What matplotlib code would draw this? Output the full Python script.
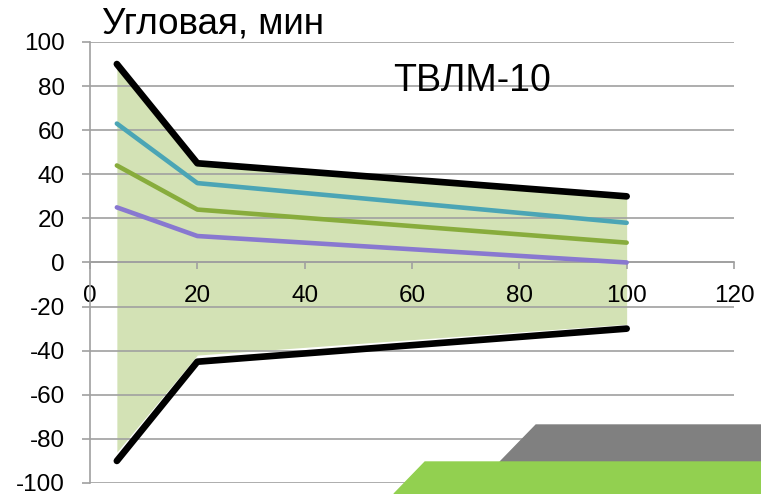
import matplotlib.pyplot as plt
from matplotlib.patches import Polygon

plt.rcParams['font.family'] = ['Liberation Sans', 'DejaVu Sans']
plt.rcParams['axes.unicode_minus'] = False

# длина, м
x = [5, 20, 100]
upper = [90, 45, 30]
lower = [-90, -45, -30]
fill_top = [90, 45, 30]
fill_bottom = [-86, -42, -28]
teal = [63, 36, 18]
green = [44, 24, 9]
purple = [25, 12, 0]

x_ticks = [0, 20, 40, 60, 80, 100, 120]
y_ticks = [-100, -80, -60, -40, -20, 0, 20, 40, 60, 80, 100]

fig = plt.figure(figsize=(7.61, 4.94), dpi=100)
ax = fig.add_axes([0.1183, 0.0223, 0.9645 - 0.1183, 0.915 - 0.0223])

ax.fill_between(x, fill_bottom, fill_top, color='#D3E2B5', lw=0, zorder=1)
for yv in y_ticks:
    ax.axhline(yv, color='#A0A0A0', lw=1.2, zorder=2)

ax.plot(x, upper, color='black', lw=4.8, solid_capstyle='round', zorder=5)
ax.plot(x, lower, color='black', lw=4.8, solid_capstyle='round', zorder=5)
ax.plot(x, teal, color='#4BA5B5', lw=3.3, solid_capstyle='round', zorder=4)
ax.plot(x, green, color='#88AC3C', lw=3.3, solid_capstyle='round', zorder=4)
ax.plot(x, purple, color='#8878D0', lw=3.3, solid_capstyle='round', zorder=4)

ax.set_xlim(0, 120)
ax.set_ylim(-100, 100)
ax.set_xticks(x_ticks)
ax.set_yticks(y_ticks)

for side in ['top', 'right']:
    ax.spines[side].set_visible(False)
ax.spines['left'].set_color('#A0A0A0')
ax.spines['left'].set_linewidth(1.2)
ax.spines['bottom'].set_position(('data', 0))
ax.spines['bottom'].set_color('#A0A0A0')
ax.spines['bottom'].set_linewidth(1.2)
ax.spines['bottom'].set_zorder(3)

ax.tick_params(axis='y', direction='out', length=6, width=1.2, color='#A0A0A0',
               pad=12, labelsize=17.5)
ax.tick_params(axis='x', direction='out', length=5, width=1.2, color='#A0A0A0',
               pad=11, labelsize=17.5)

ax.text(0.019, 1.0, 'Угловая, мин', transform=ax.transAxes, fontsize=26.5,
        ha='left', va='bottom')
ax.text(0.470, 0.952, 'ТВЛМ-10', transform=ax.transAxes, fontsize=27,
        ha='left', va='top')

# декоративные плашки в правом нижнем углу
gray_band = Polygon([(500 / 761, 1 - 462 / 494), (536 / 761, 1 - 425 / 494),
                     (1, 1 - 425 / 494), (1, 1 - 462 / 494)],
                    closed=True, transform=fig.transFigure, color='#808080', zorder=10)
green_band = Polygon([(394 / 761, 0), (425 / 761, 1 - 462 / 494),
                      (1, 1 - 462 / 494), (1, 0)],
                     closed=True, transform=fig.transFigure, color='#92D050', zorder=10)
fig.patches.extend([gray_band, green_band])

fig.savefig('out.png', dpi=100)
